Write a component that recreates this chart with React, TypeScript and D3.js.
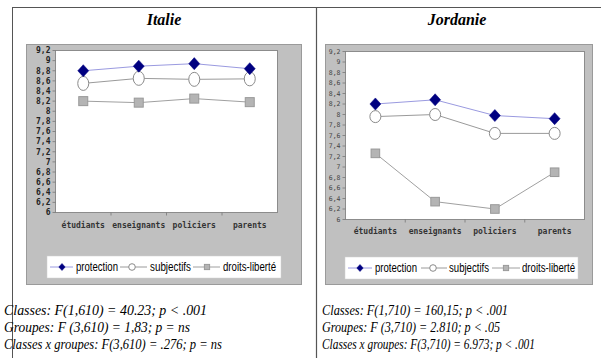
import React from "react";
import * as d3 from "d3";

const categories = ["étudiants", "enseignants", "policiers", "parents"];
const yTicks = [6, 6.2, 6.4, 6.6, 6.8, 7, 7.2, 7.4, 7.6, 7.8, 8, 8.2, 8.4, 8.6, 8.8, 9, 9.2];

const italieProtection = [8.8, 8.89, 8.94, 8.84];
const italieSubjectifs = [8.55, 8.65, 8.63, 8.64];
const italieDroits = [8.2, 8.17, 8.25, 8.18];

const jordanieProtection = [8.2, 8.28, 7.98, 7.92];
const jordanieSubjectifs = [7.96, 8.0, 7.64, 7.64];
const jordanieDroits = [7.26, 6.34, 6.2, 6.9];

const legendLabels = ["protection", "subjectifs", "droits-liberté"];

const italieStats = [
  "Classes: F(1,610) = 40.23; p < .001",
  "Groupes: F (3,610) = 1,83; p = ns",
  "Classes x groupes: F(3,610) = .276; p = ns",
];
const jordanieStats = [
  "Classes: F(1,710) = 160,15; p < .001",
  "Groupes: F (3,710) = 2.810; p < .05",
  "Classes x groupes: F(3,710) = 6.973; p < .001",
];

const fmt = (v: number) => (Number.isInteger(Math.round(v * 10) / 10) ? String(Math.round(v)) : v.toFixed(1).replace(".", ","));

type PanelProps = {
  title: string;
  titleX: number;
  box: { x0: number; y0: number; x1: number; y1: number };
  plot: { x0: number; y0: number; x1: number; y1: number };
  series: number[][];
  yFont: number;
  yFontWeight: string;
  yColor: string;
  xLabelY: number;
  circleRy: number;
  sq: number;
  legend: { x0: number; x1: number; y0: number; y1: number; items: { l0: number; l1: number; m: number; t0: number; t1: number }[] };
  stats: string[];
  statsX: number;
  statsW: number[];
};

function Marker({ kind, x, y, s, ry }: { kind: number; x: number; y: number; s: number; ry?: number }) {
  if (kind === 0) {
    return <path d={`M${x},${y - s * 1.1}L${x + s},${y}L${x},${y + s * 1.1}L${x - s},${y}Z`} fill="#000080" stroke="#000080" strokeWidth={0.5} />;
  }
  if (kind === 1) {
    return <ellipse cx={x} cy={y} rx={s} ry={ry ?? s} fill="#ffffff" stroke="#8a8a8a" strokeWidth={1} />;
  }
  return <rect x={x - s} y={y - s} width={s * 2} height={s * 2} fill="#b4b4b4" stroke="#999999" strokeWidth={1} />;
}

const lineColors = ["#9a9ae0", "#9a9a9a", "#a0a0a0"];

function Panel(p: PanelProps) {
  const x = d3.scaleBand<string>().domain(categories).range([p.plot.x0, p.plot.x1]);
  const y = d3.scaleLinear().domain([6, 9.2]).range([p.plot.y1, p.plot.y0]);
  const line = d3
    .line<number>()
    .x((_, i) => (x(categories[i]) as number) + x.bandwidth() / 2)
    .y((d) => y(d));
  const order = [2, 1, 0];
  return (
    <g>
      <text x={p.titleX} y={25} textAnchor="middle" fontFamily="'Liberation Serif', serif" fontWeight="bold" fontStyle="italic" fontSize={16} fill="#000">
        {p.title}
      </text>
      <rect x={p.box.x0} y={p.box.y0} width={p.box.x1 - p.box.x0} height={p.box.y1 - p.box.y0} fill="#c0c0c0" stroke="#9a9a9a" strokeWidth={1} />
      <rect x={p.plot.x0} y={p.plot.y0} width={p.plot.x1 - p.plot.x0} height={p.plot.y1 - p.plot.y0} fill="#ffffff" stroke="#8c8c8c" strokeWidth={1} />
      {yTicks.map((t) => (
        <g key={t}>
          <line x1={p.plot.x0 - 3} x2={p.plot.x0} y1={y(t)} y2={y(t)} stroke="#777" strokeWidth={0.8} />
          <text x={p.plot.x0 - 5} y={y(t)} dy="0.35em" textAnchor="end" fontFamily="'DejaVu Sans Mono', monospace" fontSize={p.yFont} fontWeight={p.yFontWeight} fill={p.yColor}>
            {fmt(t)}
          </text>
        </g>
      ))}
      {categories.map((c, i) => (
        <g key={c}>
          {i > 0 && <line x1={x(c)} x2={x(c)} y1={p.plot.y1} y2={p.plot.y1 + 3} stroke="#777" strokeWidth={0.8} />}
          <text x={(x(c) as number) + x.bandwidth() / 2} y={p.xLabelY} dy="0.35em" textAnchor="middle" fontFamily="'DejaVu Sans Mono', monospace" fontSize={8} fontWeight="bold" fill="#333">
            {c}
          </text>
        </g>
      ))}
      {order.map((k) => (
        <path key={"l" + k} d={line(p.series[k]) as string} fill="none" stroke={lineColors[k]} strokeWidth={1} />
      ))}
      {order.map((k) =>
        p.series[k].map((v, i) => (
          <Marker key={`m${k}-${i}`} kind={k} x={(x(categories[i]) as number) + x.bandwidth() / 2} y={y(v)} s={k === 0 ? 5.5 : k === 1 ? 5.5 : p.sq} ry={p.circleRy} />
        ))
      )}
      <rect x={p.legend.x0} y={p.legend.y0} width={p.legend.x1 - p.legend.x0} height={p.legend.y1 - p.legend.y0} fill="#ffffff" stroke="#d0d0d0" strokeWidth={0.5} />
      {p.legend.items.map((it, k) => {
        const cy = (p.legend.y0 + p.legend.y1) / 2;
        return (
          <g key={"lg" + k}>
            <line x1={it.l0} x2={it.l1} y1={cy} y2={cy} stroke={lineColors[k]} strokeWidth={1} />
            <Marker kind={k} x={it.m} y={cy} s={k === 0 ? 3.2 : k === 1 ? 3.3 : 2.6} ry={3.3} />
            <text x={it.t0} y={cy} dy="0.36em" fontFamily="'Liberation Sans', Arial, sans-serif" fontSize={12} fill="#000" textLength={it.t1 - it.t0} lengthAdjust="spacingAndGlyphs">
              {legendLabels[k]}
            </text>
          </g>
        );
      })}
      {p.stats.map((s, i) => (
        <text key={"s" + i} x={p.statsX} y={315 + i * 17} fontFamily="'Liberation Serif', serif" fontStyle="italic" fontSize={14} fill="#000" textLength={p.statsW[i]} lengthAdjust="spacingAndGlyphs">
          {s}
        </text>
      ))}
    </g>
  );
}

export default function App() {
  return (
    <svg width={601} height={358} style={{ position: "absolute", left: 0, top: 0 }}>
      <rect x={0} y={0} width={601} height={358} fill="#ffffff" />
      <line x1={12} x2={601} y1={7.5} y2={7.5} stroke="#555" strokeWidth={1} />
      <line x1={12.5} x2={12.5} y1={7} y2={358} stroke="#555" strokeWidth={1} />
      <line x1={316.5} x2={316.5} y1={7} y2={358} stroke="#555" strokeWidth={1.2} />
      <Panel
        title="Italie"
        titleX={164}
        box={{ x0: 26.5, y0: 44.5, x1: 301.5, y1: 284.5 }}
        plot={{ x0: 55.5, y0: 50.5, x1: 277.5, y1: 212.5 }}
        series={[italieProtection, italieSubjectifs, italieDroits]}
        yFont={8}
        yFontWeight="bold"
        yColor="#222"
        xLabelY={225}
        circleRy={7}
        sq={4.5}
        legend={{
          x0: 47,
          x1: 281,
          y0: 256,
          y1: 278,
          items: [
            { l0: 50, l1: 73, m: 62, t0: 76, t1: 118 },
            { l0: 120, l1: 147, m: 132, t0: 150, t1: 191 },
            { l0: 193, l1: 220, m: 207, t0: 223, t1: 276 },
          ],
        }}
        stats={italieStats}
        statsX={4}
        statsW={[203, 186, 218]}
      />
      <Panel
        title="Jordanie"
        titleX={457}
        box={{ x0: 325.5, y0: 44.5, x1: 592.5, y1: 284.5 }}
        plot={{ x0: 345.5, y0: 51.5, x1: 584.5, y1: 219.5 }}
        series={[jordanieProtection, jordanieSubjectifs, jordanieDroits]}
        yFont={6.5}
        yFontWeight="normal"
        yColor="#444"
        xLabelY={231}
        circleRy={6}
        sq={4.3}
        legend={{
          x0: 345,
          x1: 578,
          y0: 257,
          y1: 279,
          items: [
            { l0: 348, l1: 372, m: 360, t0: 375, t1: 417 },
            { l0: 421, l1: 447, m: 433, t0: 449, t1: 489 },
            { l0: 492, l1: 520, m: 506, t0: 522, t1: 575 },
          ],
        }}
        stats={jordanieStats}
        statsX={322}
        statsW={[186, 178, 213]}
      />
    </svg>
  );
}
